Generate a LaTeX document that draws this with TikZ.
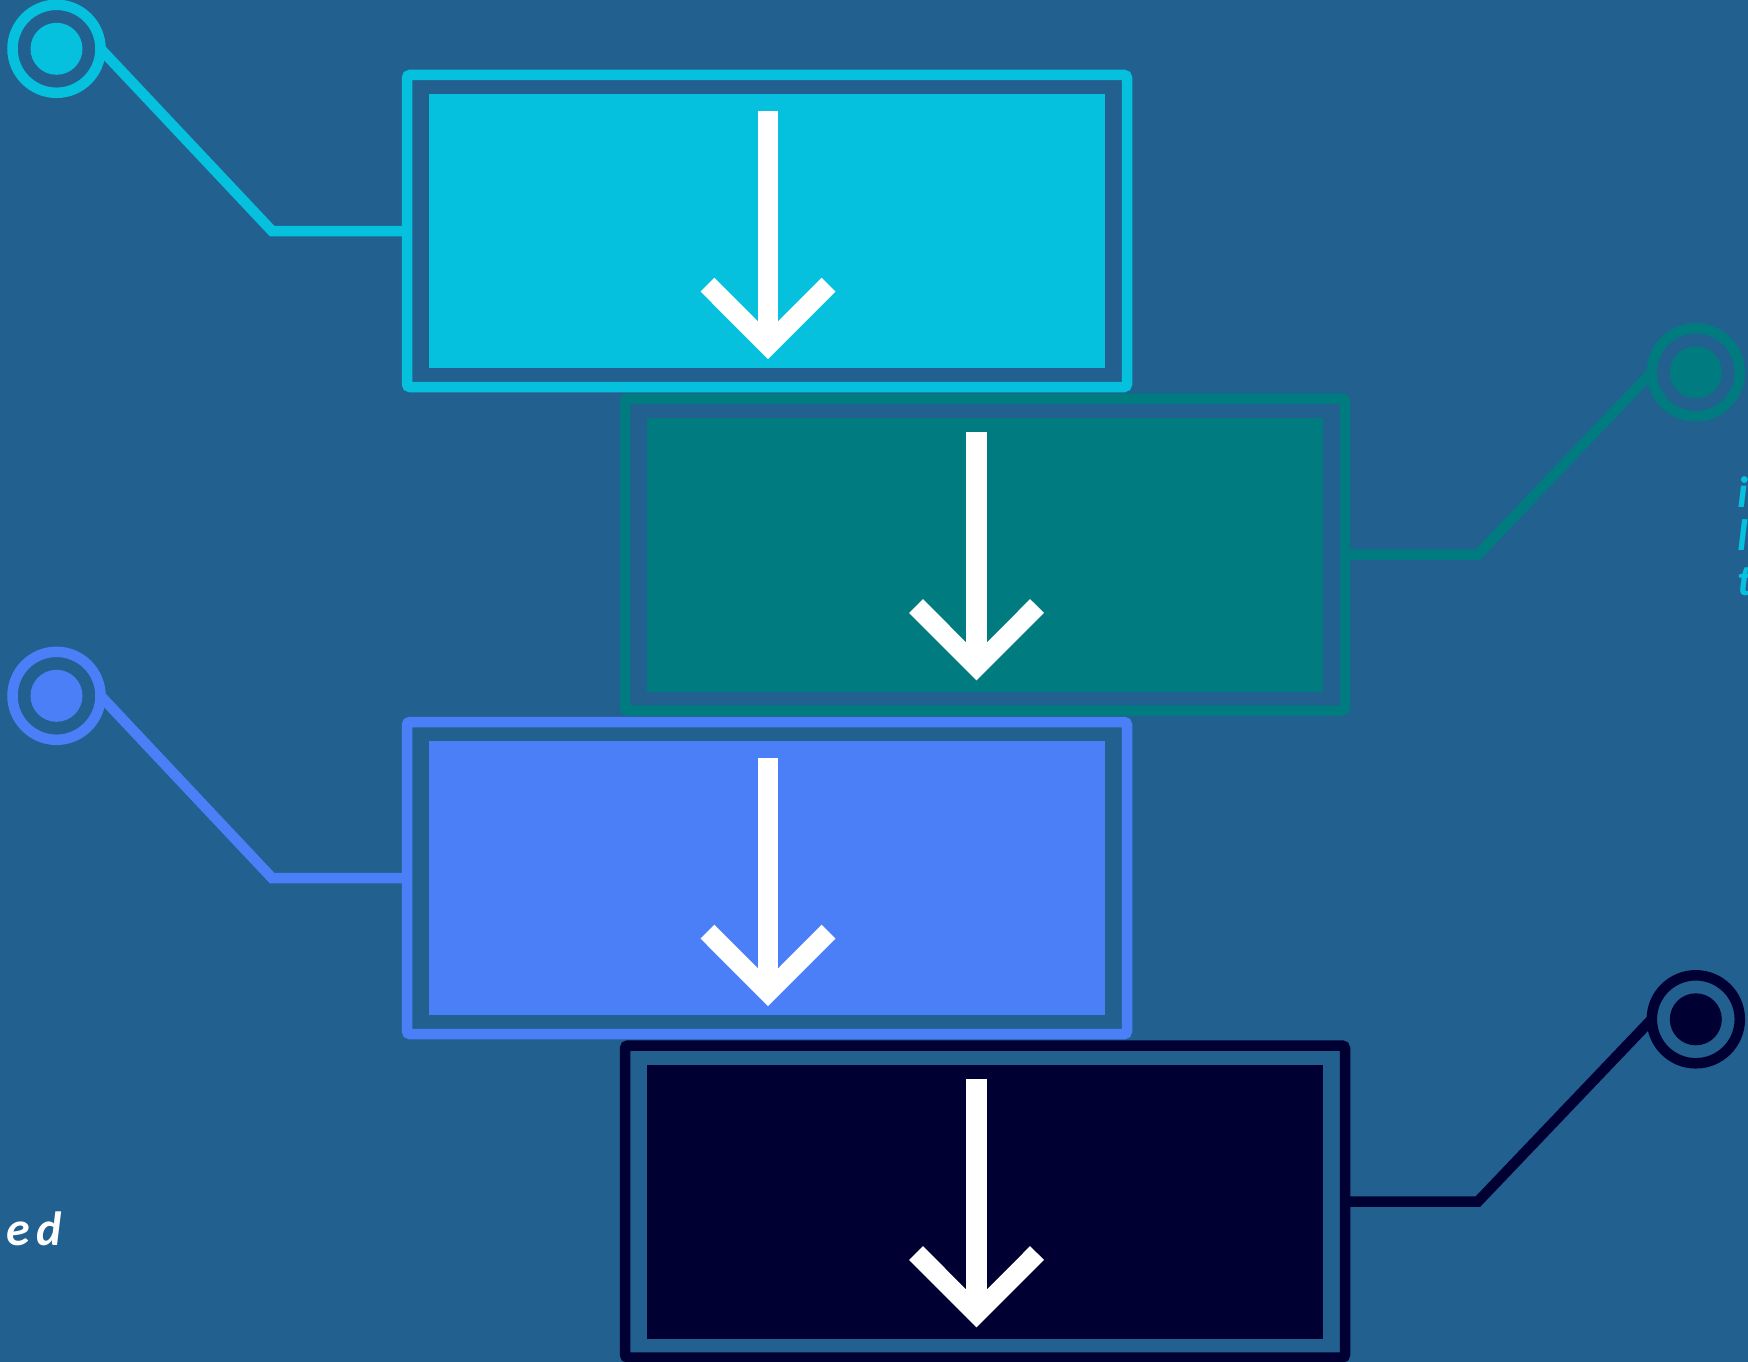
\documentclass[tikz,border=0pt]{standalone}
\usepackage{fontspec}
\setmainfont{Carlito}
\definecolor{bgc}{RGB}{34,96,143}
\definecolor{cyanc}{RGB}{5,193,222}
\definecolor{tealc}{RGB}{0,123,128}
\definecolor{bluec}{RGB}{74,127,247}
\definecolor{navyc}{RGB}{0,0,51}
\begin{document}
\begin{tikzpicture}[x=1pt,y=-1pt,
  frame/.style={draw, line width=10.5pt, rounded corners=3pt, minimum width=720pt, minimum height=312pt, inner sep=0pt, outer sep=0pt},
  panel/.style={minimum width=676pt, minimum height=274pt, inner sep=0pt, outer sep=0pt},
  ring/.style={circle, draw, line width=10.5pt, minimum size=88pt, inner sep=0pt, outer sep=0pt},
  dot/.style={circle, minimum size=52pt, inner sep=0pt, outer sep=0pt},
  link/.style={line width=10.5pt, line join=miter},
  shaft/.style={white, line width=20.5pt},
  chev/.style={white, line width=19.5pt, line join=miter},
  lbl/.style={inner sep=0pt, font=\fontsize{40}{44}\selectfont\bfseries\itshape}
]
\useasboundingbox (0,0) rectangle (1748,1362);
\fill[bgc] (0,0) rectangle (1748,1362);
\clip (0,0) rectangle (1748,1362);

% left-hand boxes
\foreach \i/\c/\dy in {1/cyanc/0, 3/bluec/647} {
  \begin{scope}[shift={(0,\dy)}]
    \node[frame, draw=\c] (frame\i) at (767,231) {};
    \node[panel, fill=\c] (panel\i) at (767,231) {};
    \draw[shaft] (768,110.7) -- (768,335);
    \draw[chev] (707.5,284.7) -- (768,345.3) -- (828.5,284.7);
    \node[ring, draw=\c] (ring\i) at (56.5,48.8) {};
    \node[dot, fill=\c] (dot\i) at (ring\i.center) {};
    \coordinate (bend\i) at (272,231);
    \draw[link, draw=\c] (frame\i.west) -- (bend\i) -- (ring\i.east);
  \end{scope}
}

% right-hand boxes
\foreach \i/\c/\dy in {2/tealc/323.5, 4/navyc/970.5} {
  \begin{scope}[shift={(218,\dy)}]
    \node[frame, draw=\c] (frame\i) at (767,231) {};
    \node[panel, fill=\c] (panel\i) at (767,231) {};
    \draw[shaft] (758.5,108.5) -- (758.5,333);
    \draw[chev] (698,282.5) -- (758.5,343.1) -- (819,282.5);
    \node[ring, draw=\c] (ring\i) at (1477.8,48.8) {};
    \node[dot, fill=\c] (dot\i) at (ring\i.center) {};
    \coordinate (bend\i) at (1260,231);
    \draw[link, draw=\c] (frame\i.east) -- (bend\i) -- (ring\i.west);
  \end{scope}
}

% text fragments cut by the picture edges
\node[lbl, text=white, anchor=base] (ttop) at (1186,-6) {g};
\node[lbl, text=cyanc, anchor=base west, font=\fontsize{44}{48}\selectfont\bfseries\itshape] (tr1) at (1737,507) {i};
\node[lbl, text=cyanc, anchor=base west, font=\fontsize{44}{48}\selectfont\bfseries\itshape] (tr2) at (1737,550) {l};
\node[lbl, text=cyanc, anchor=base west, font=\fontsize{44}{48}\selectfont\bfseries\itshape] (tr3) at (1737,595) {t};
\node[lbl, text=white, anchor=base east, font=\fontsize{48}{52}\selectfont\bfseries\itshape] (tbl) at (62.5,1245) {\addfontfeature{LetterSpace=15}red};
\end{tikzpicture}
\end{document}
